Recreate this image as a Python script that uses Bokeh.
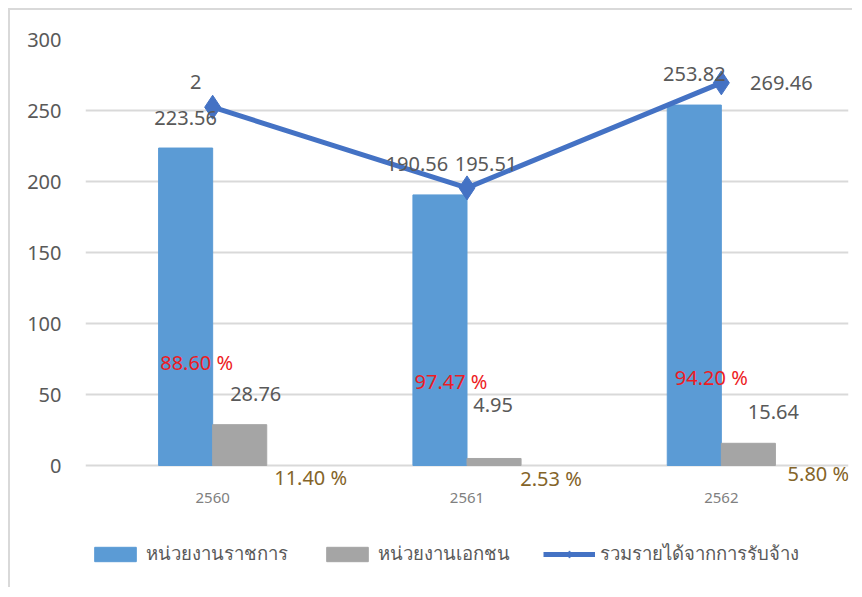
from bokeh.plotting import figure
from bokeh.models import (ColumnDataSource, FixedTicker, LabelSet, Legend, LegendItem)
from bokeh.core.properties import value
from bokeh.embed import file_html
from bokeh.resources import INLINE

# ---------------- data ----------------
years = ["2560", "2561", "2562"]
gov = [223.56, 190.56, 253.82]          # หน่วยงานราชการ
private = [28.76, 4.95, 15.64]          # หน่วยงานเอกชน
total = [252.32, 195.51, 269.46]        # รวมรายได้จากการรับจ้าง
total_labels = ["2", "195.51", "269.46"]
gov_pct = ["88.60 %", "97.47 %", "94.20 %"]
priv_pct = ["11.40 %", "2.53 %", "5.80 %"]
y_ticks = [0, 50, 100, 150, 200, 250, 300]

series_names = ["หน่วยงานราชการ", "หน่วยงานเอกชน", "รวมรายได้จากการรับจ้าง"]

# ---------------- style ----------------
BLUE = "#5B9BD5"
GRAY = "#A5A5A5"
LINE = "#4472C4"
TXT = "#595959"
RED = "#ED1C24"
BROWN = "#846429"
FONT = "Noto Sans"
BW = 0.2126

x = list(range(len(years)))
src = ColumnDataSource(dict(
    x=x,
    xg=[i - BW / 2 for i in x],
    xp=[i + BW / 2 for i in x],
    gov=gov, private=private, total=total,
    gov_l=[f"{v:.2f}" for v in gov],
    priv_l=[f"{v:.2f}" for v in private],
    tot_l=total_labels,
    gpct=gov_pct, ppct=priv_pct,
    years=years,
    zero=[0] * len(x),
    # per-label pixel offsets (layout only)
    gdx=[0, -23, 0], gdy=[30, 31, 31],
    pdx=[16, -1, 25], pdy=[31, 53, 31],
    tdx=[-17, 19, 60], tdy=[25, 24, 0],
    rdx=[-16, -16, -10], rdy=[103, 84, 88],
    bdx=[98, 84, 97], bdy=[-12, -13, -8],
))

p = figure(width=844, height=579, output_backend="svg", toolbar_location=None,
           x_range=(-0.5, 2.5), y_range=(-87.32, 300),
           min_border_left=75, min_border_right=6, min_border_top=29,
           min_border_bottom=0,
           styles={"margin-left": "8px", "margin-top": "8px",
                   "border-left": "2px solid #d9d9d9", "border-top": "2px solid #d9d9d9"})
p.outline_line_color = None
p.background_fill_color = "white"
p.border_fill_color = "white"

r_gov = p.vbar(x="xg", top="gov", width=BW, source=src, color=BLUE)
r_priv = p.vbar(x="xp", top="private", width=BW, source=src, color=GRAY)
r_line = p.line(x="x", y="total", source=src, line_color=LINE, line_width=5)
r_mark = p.scatter(x="x", y="total", source=src, marker="diamond", size=24,
                   fill_color=LINE, line_color=LINE)

# axes
p.xaxis.visible = False

p.yaxis.ticker = FixedTicker(ticks=y_ticks)
p.yaxis.axis_line_color = None
p.yaxis.major_tick_line_color = None
p.yaxis.minor_tick_line_color = None
p.yaxis.major_label_text_font = FONT
p.yaxis.major_label_text_font_size = "20px"
p.yaxis.major_label_text_color = TXT
p.yaxis.major_label_standoff = 18

p.xgrid.grid_line_color = None
p.ygrid.grid_line_color = "#d9d9d9"
p.ygrid.grid_line_width = 2

def labels(xf, yf, text, dx, dy, color, size="20px"):
    ls = LabelSet(x=xf, y=yf, text=text, source=src, x_offset=dx, y_offset=dy,
                  text_align="center", text_baseline="middle",
                  text_font=value(FONT), text_font_size=value(size), text_color=color)
    p.add_layout(ls)

labels("xg", "gov", "gov_l", "gdx", "gdy", TXT)
labels("xp", "private", "priv_l", "pdx", "pdy", TXT)
labels("x", "total", "tot_l", "tdx", "tdy", TXT)
labels("x", "zero", "gpct", "rdx", "rdy", RED)
labels("x", "zero", "ppct", "bdx", "bdy", BROWN)
labels("x", "zero", "years", 0, -32, "#808080", "15px")

legend = Legend(items=[
    LegendItem(label=series_names[0], renderers=[r_gov]),
    LegendItem(label=series_names[1], renderers=[r_priv]),
    LegendItem(label=series_names[2], renderers=[r_line, r_mark]),
], orientation="horizontal", location=(4, 21),
    glyph_width=52, glyph_height=18, label_standoff=5, spacing=33,
    label_height=20,
    padding=0, margin=0, border_line_color=None, background_fill_alpha=0,
    label_text_font=FONT, label_text_font_size="18.5px", label_text_color=TXT)
p.add_layout(legend, "center")

open("out.html", "w").write(file_html(p, INLINE))
